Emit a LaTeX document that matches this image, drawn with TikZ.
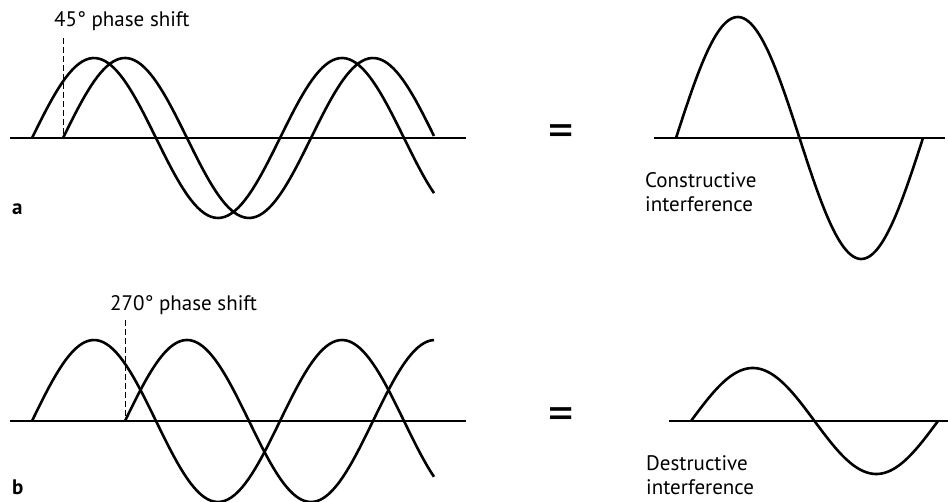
\documentclass[tikz,border=0pt]{standalone}
\usepackage{fontspec}
\setmainfont{PT Sans}
\usetikzlibrary{positioning}
\tikzset{
  wave/.style={line width=2.6pt, line join=round},
  zeroline/.style={line width=1.1pt},
  shiftline/.style={line width=1pt, dash pattern=on 6pt off 3pt},
  lbl/.style={font=\fontsize{21}{24}\selectfont, inner sep=0pt, anchor=base west, align=left},
  panel/.style={font=\fontsize{21}{25}\selectfont\bfseries, inner sep=0pt, anchor=base west},
  eqsign/.style={font=\fontsize{50}{50}\selectfont, inner sep=0pt}
}
\begin{document}
\begin{tikzpicture}[x=1pt, y=-1pt]
    \useasboundingbox (0,0) rectangle (948,502);
    \def\hp{124}

    % panel a: two waves, 45 degrees apart
    \coordinate (aL0) at (10,138);
    \coordinate (aL1) at (466,138);
    \draw[zeroline] (aL0) -- (aL1);
    \draw[wave] plot[domain=32:434, samples=120] (\x, {138-80*sin((\x-32)/\hp*180)});
    \draw[wave] plot[domain=63:434, samples=120] (\x, {138-80*sin((\x-63)/\hp*180)});

    \node[lbl] (shiftA) at (54,27) {45° phase shift};
    \coordinate (dA0) at (63,38);
    \coordinate (dA1) at (63,138);
    \draw[shiftline] (dA0) -- (dA1);
    \node[panel] (pa) at (12,215) {a};

    \node[eqsign] (eqA) at (561,136) {=};

    % constructive sum
    \coordinate (aR0) at (654,138);
    \coordinate (aR1) at (945,138);
    \draw[zeroline] (aR0) -- (aR1);
    \draw[wave] plot[domain=676:923, samples=120] (\x, {138-121*sin((\x-676)/123.5*180)});
    \node[lbl] (consA) at (645,212) {Constructive\\interference};

    % panel b: two waves, 270 degrees apart
    \coordinate (bL0) at (10,421);
    \coordinate (bL1) at (466,421);
    \draw[zeroline] (bL0) -- (bL1);
    \draw[wave] plot[domain=32:434, samples=120] (\x, {421-81*sin((\x-32)/\hp*180)});
    \draw[wave] plot[domain=125:434, samples=120] (\x, {421-81*sin((\x-125)/\hp*180)});

    \node[lbl] (shiftB) at (110,311) {270° phase shift};
    \coordinate (dB0) at (125,320);
    \coordinate (dB1) at (125,421);
    \draw[shiftline] (dB0) -- (dB1);
    \node[panel] (pb) at (12,494) {b};

    \node[eqsign] (eqB) at (561,419) {=};

    % destructive sum
    \coordinate (bR0) at (669,421);
    \coordinate (bR1) at (948,421);
    \draw[zeroline] (bR0) -- (bR1);
    \draw[wave] plot[domain=691:938, samples=120] (\x, {421-53*sin((\x-691)/123.5*180)});
    \node[lbl] (desB) at (646,494) {Destructive\\interference};
  \end{tikzpicture}
\end{document}
